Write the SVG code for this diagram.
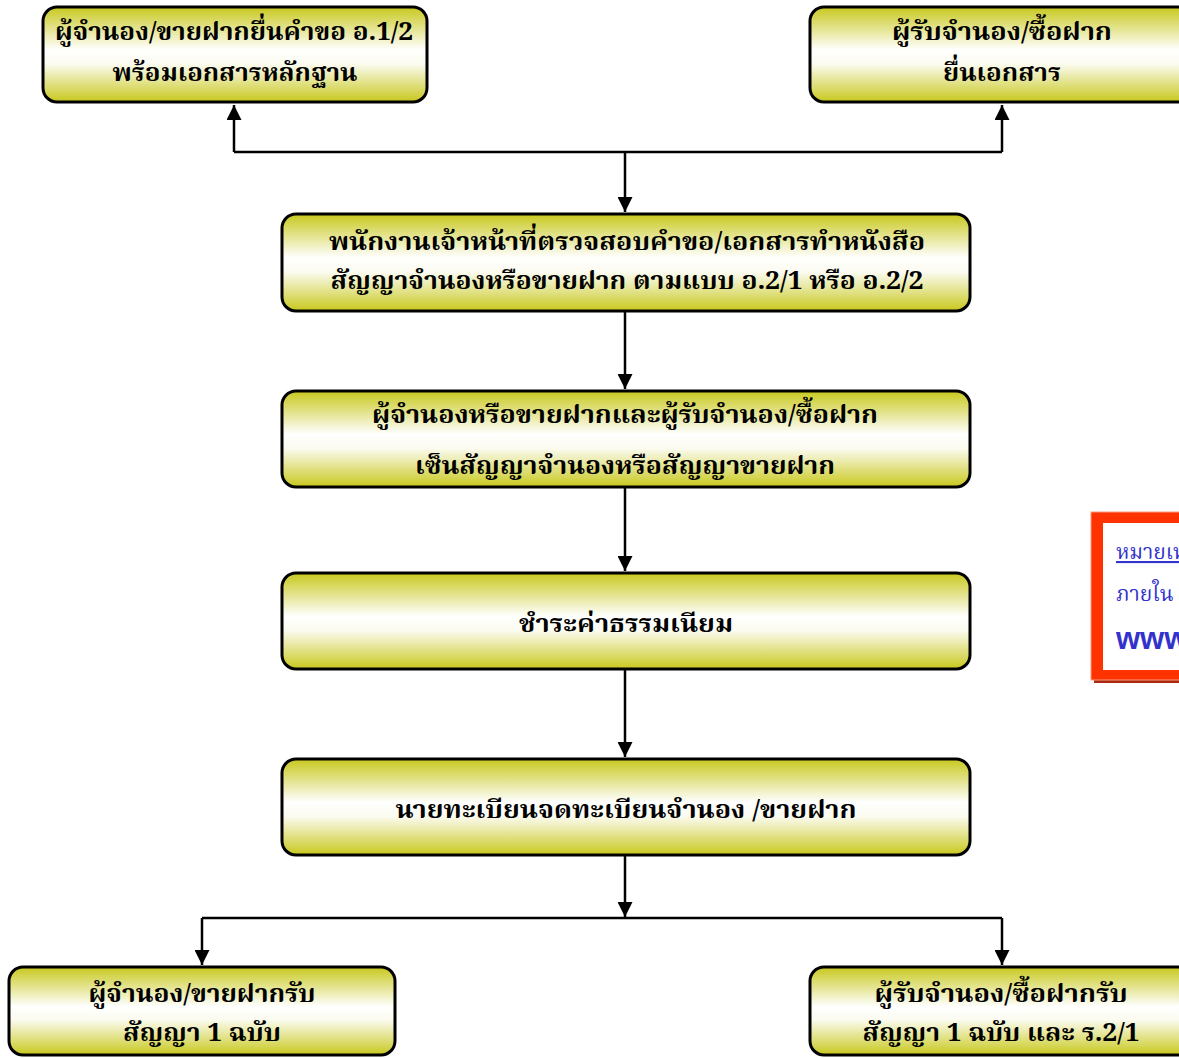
<svg xmlns="http://www.w3.org/2000/svg" width="1179" height="1058" viewBox="0 0 1179 1058">
<style>
.box{fill:url(#g);stroke:#000;stroke-width:3}
.t{font-family:"Noto Serif Thai","Noto Sans Thai","Liberation Serif",serif;font-weight:bold;font-size:25px;fill:#000;text-anchor:middle}
.c{fill:none;stroke:#000;stroke-width:2.5}
.n{font-family:"Noto Serif Thai","Liberation Serif",serif;fill:#3333cc;font-size:21px}
</style>
<defs>
<linearGradient id="g" x1="0" y1="0" x2="0" y2="1">
<stop offset="0" stop-color="#c8c81e"/>
<stop offset="0.45" stop-color="#ffffff"/>
<stop offset="0.6" stop-color="#fbfbf0"/>
<stop offset="1" stop-color="#c8c81e"/>
</linearGradient>
<marker id="a" viewBox="0 0 10 10" refX="10" refY="5" markerWidth="6" markerHeight="6" markerUnits="strokeWidth" orient="auto">
<path d="M0,0 L10,5 L0,10 z" fill="#000"/>
</marker>
</defs>
<g id="connectors">
<path class="c" d="M625,152 V212" marker-end="url(#a)"/>
<path class="c" d="M234,152 H1002"/>
<path class="c" d="M234,152 V105" marker-end="url(#a)"/>
<path class="c" d="M1002,152 V105" marker-end="url(#a)"/>
<path class="c" d="M625,312 V389" marker-end="url(#a)"/>
<path class="c" d="M625,488 V571" marker-end="url(#a)"/>
<path class="c" d="M625,670 V757" marker-end="url(#a)"/>
<path class="c" d="M625,856 V917" marker-end="url(#a)"/>
<path class="c" d="M202,918 H1002"/>
<path class="c" d="M202,918 V965" marker-end="url(#a)"/>
<path class="c" d="M1002,918 V965" marker-end="url(#a)"/>
</g>
<g id="n1">
<rect class="box" x="43" y="7" width="384" height="95" rx="14"/>
<text class="t" x="234" y="40" textLength="358" lengthAdjust="spacingAndGlyphs">ผู้จำนอง/ขายฝากยื่นคำขอ อ.1/2</text>
<text class="t" x="235" y="81" textLength="245" lengthAdjust="spacingAndGlyphs">พร้อมเอกสารหลักฐาน</text>
</g>
<g id="n2">
<rect class="box" x="810" y="7" width="384" height="95" rx="14"/>
<text class="t" x="1002" y="40" textLength="220" lengthAdjust="spacingAndGlyphs">ผู้รับจำนอง/ซื้อฝาก</text>
<text class="t" x="1002" y="81" textLength="118" lengthAdjust="spacingAndGlyphs">ยื่นเอกสาร</text>
</g>
<g id="n3">
<rect class="box" x="282" y="214" width="688" height="97" rx="14"/>
<text class="t" x="627" y="250" textLength="596" lengthAdjust="spacingAndGlyphs">พนักงานเจ้าหน้าที่ตรวจสอบคำขอ/เอกสารทำหนังสือ</text>
<text class="t" x="627" y="289" textLength="593" lengthAdjust="spacingAndGlyphs">สัญญาจำนองหรือขายฝาก ตามแบบ อ.2/1 หรือ อ.2/2</text>
</g>
<g id="n4">
<rect class="box" x="282" y="391" width="688" height="96" rx="14"/>
<text class="t" x="625" y="423" textLength="506" lengthAdjust="spacingAndGlyphs">ผู้จำนองหรือขายฝากและผู้รับจำนอง/ซื้อฝาก</text>
<text class="t" x="625" y="474" textLength="420" lengthAdjust="spacingAndGlyphs">เซ็นสัญญาจำนองหรือสัญญาขายฝาก</text>
</g>
<g id="n5">
<rect class="box" x="282" y="573" width="688" height="96" rx="14"/>
<text class="t" x="626" y="632" textLength="214" lengthAdjust="spacingAndGlyphs">ชำระค่าธรรมเนียม</text>
</g>
<g id="n6">
<rect class="box" x="282" y="759" width="688" height="96" rx="14"/>
<text class="t" x="626" y="818" textLength="461" lengthAdjust="spacingAndGlyphs">นายทะเบียนจดทะเบียนจำนอง /ขายฝาก</text>
</g>
<g id="n7">
<rect class="box" x="9" y="967" width="386" height="88" rx="14"/>
<text class="t" x="202" y="1002" textLength="227" lengthAdjust="spacingAndGlyphs">ผู้จำนอง/ขายฝากรับ</text>
<text class="t" x="202" y="1041" textLength="158" lengthAdjust="spacingAndGlyphs">สัญญา 1 ฉบับ</text>
</g>
<g id="n8">
<rect class="box" x="810" y="967" width="386" height="88" rx="14"/>
<text class="t" x="1001" y="1002" textLength="253" lengthAdjust="spacingAndGlyphs">ผู้รับจำนอง/ซื้อฝากรับ</text>
<text class="t" x="1001" y="1041" textLength="277" lengthAdjust="spacingAndGlyphs">สัญญา 1 ฉบับ และ ร.2/1</text>
</g>
<g id="note">
<rect x="1094" y="515" width="100" height="168" fill="#a82a10"/>
<rect x="1091" y="512" width="100" height="168" fill="#ff3300" stroke="#ff9a80" stroke-width="1"/>
<rect x="1103" y="523" width="90" height="147" fill="#fff"/>
<text class="n" x="1116" y="559" text-decoration="underline">หมายเหตุ</text>
<text class="n" x="1116" y="601">ภายใน</text>
<text x="1116" y="649" font-family="Liberation Sans,sans-serif" font-weight="bold" font-size="31" fill="#3333cc">www</text>
</g>
</svg>
